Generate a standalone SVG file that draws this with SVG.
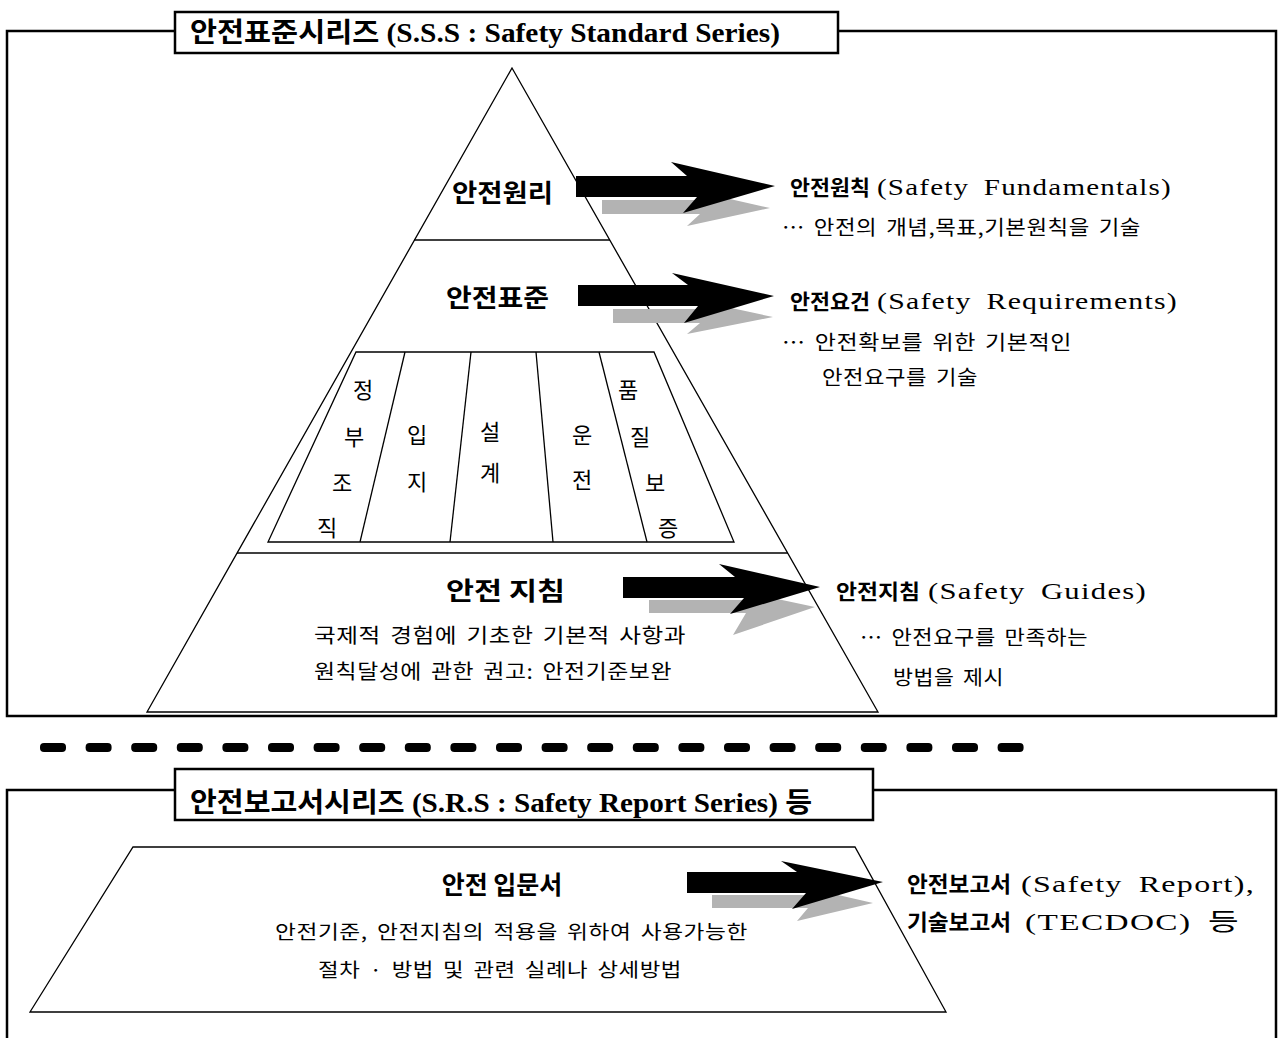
<svg xmlns="http://www.w3.org/2000/svg" width="1282" height="1038" viewBox="0 0 1282 1038">
<style>
.frame{fill:none;stroke:#000;stroke-width:2.5}
.tbox{fill:#fff;stroke:#000;stroke-width:2.5}
.ln{fill:none;stroke:#000;stroke-width:1.3}
.ko{font-family:"Noto Sans CJK KR","Liberation Serif",sans-serif;fill:#000}
.bd{font-family:"Noto Sans CJK KR","Liberation Serif",sans-serif;fill:#000;letter-spacing:0.5px;word-spacing:3px}
.b{font-weight:bold}
.en{font-family:"Liberation Serif","Noto Sans CJK KR",serif;fill:#000;font-size:24px;letter-spacing:1px;word-spacing:5px}
.ttl{font-family:"Liberation Serif","Noto Sans CJK KR",serif;font-weight:bold;font-size:27px;fill:#000}
.col{font-family:"Noto Sans CJK KR",sans-serif;font-size:22px;text-anchor:middle;fill:#000}
.blk{fill:#000}
.gry{fill:#b3b3b3}
</style>
<rect width="1282" height="1038" fill="#fff"/>

<g id="frame-sss">
<polyline class="frame" points="175,31 7,31 7,716 1276,716 1276,31 838,31"/>
<rect class="tbox" x="175" y="12" width="663" height="41"/>
<text class="ttl" x="190" y="42" textLength="590" lengthAdjust="spacingAndGlyphs">안전표준시리즈 (S.S.S : Safety Standard Series)</text>
</g>

<g id="pyramid">
<polygon class="ln" points="512,68 878,712 147,712"/>
<line class="ln" x1="414" y1="240" x2="610" y2="240"/>
<line class="ln" x1="237" y1="553" x2="788" y2="553"/>
</g>

<g id="node-principle">
<text class="ko b" x="452" y="202" font-size="25" textLength="101" lengthAdjust="spacingAndGlyphs">안전원리</text>
</g>
<g id="node-standard">
<text class="ko b" x="446" y="307" font-size="25" textLength="103" lengthAdjust="spacingAndGlyphs">안전표준</text>
</g>

<g id="node-columns">
<polygon class="ln" points="356,352 654,352 734,542 268,542"/>
<line class="ln" x1="405" y1="352" x2="360" y2="542"/>
<line class="ln" x1="471" y1="352" x2="450" y2="542"/>
<line class="ln" x1="536" y1="352" x2="553" y2="542"/>
<line class="ln" x1="599" y1="352" x2="647" y2="542"/>
<text class="col" x="363" y="398">정</text>
<text class="col" x="354" y="445">부</text>
<text class="col" x="342" y="491">조</text>
<text class="col" x="327" y="536">직</text>
<text class="col" x="417" y="443">입</text>
<text class="col" x="417" y="490">지</text>
<text class="col" x="490" y="440">설</text>
<text class="col" x="490" y="481">계</text>
<text class="col" x="582" y="443">운</text>
<text class="col" x="582" y="488">전</text>
<text class="col" x="628" y="398">품</text>
<text class="col" x="640" y="445">질</text>
<text class="col" x="655" y="491">보</text>
<text class="col" x="668" y="536">증</text>
</g>

<g id="node-guide">
<text class="ko b" x="446" y="600" font-size="25" textLength="119" lengthAdjust="spacingAndGlyphs">안전 지침</text>
<text class="bd" x="314" y="643" font-size="20" textLength="372" lengthAdjust="spacingAndGlyphs">국제적 경험에 기초한 기본적 사항과</text>
<text class="bd" x="314" y="679" font-size="20" textLength="358" lengthAdjust="spacingAndGlyphs">원칙달성에 관한 권고: 안전기준보완</text>
</g>

<g id="label-fundamentals">
<text class="ko b" x="790" y="195" font-size="21" textLength="80" lengthAdjust="spacingAndGlyphs">안전원칙</text>
<text class="en" x="877" y="195" textLength="295" lengthAdjust="spacingAndGlyphs">(Safety Fundamentals)</text>
<text class="bd" x="782" y="235" font-size="20" textLength="359" lengthAdjust="spacingAndGlyphs">… 안전의 개념,목표,기본원칙을 기술</text>
</g>

<g id="label-requirements">
<text class="ko b" x="790" y="309" font-size="21" textLength="80" lengthAdjust="spacingAndGlyphs">안전요건</text>
<text class="en" x="877" y="309" textLength="301" lengthAdjust="spacingAndGlyphs">(Safety Requirements)</text>
<text class="bd" x="782" y="350" font-size="20" textLength="290" lengthAdjust="spacingAndGlyphs">… 안전확보를 위한 기본적인</text>
<text class="bd" x="822" y="385" font-size="20" textLength="156" lengthAdjust="spacingAndGlyphs">안전요구를 기술</text>
</g>

<g id="label-guides">
<text class="ko b" x="836" y="599" font-size="21" textLength="84" lengthAdjust="spacingAndGlyphs">안전지침</text>
<text class="en" x="928" y="599" textLength="219" lengthAdjust="spacingAndGlyphs">(Safety Guides)</text>
<text class="bd" x="860" y="645" font-size="20" textLength="228" lengthAdjust="spacingAndGlyphs">… 안전요구를 만족하는</text>
<text class="bd" x="893" y="685" font-size="20" textLength="111" lengthAdjust="spacingAndGlyphs">방법을 제시</text>
</g>

<g id="divider">
<rect class="blk" x="40" y="743" width="26" height="9" rx="4"/>
<rect class="blk" x="85.6" y="743" width="26" height="9" rx="4"/>
<rect class="blk" x="131.2" y="743" width="26" height="9" rx="4"/>
<rect class="blk" x="176.8" y="743" width="26" height="9" rx="4"/>
<rect class="blk" x="222.4" y="743" width="26" height="9" rx="4"/>
<rect class="blk" x="268" y="743" width="26" height="9" rx="4"/>
<rect class="blk" x="313.6" y="743" width="26" height="9" rx="4"/>
<rect class="blk" x="359.2" y="743" width="26" height="9" rx="4"/>
<rect class="blk" x="404.8" y="743" width="26" height="9" rx="4"/>
<rect class="blk" x="450.4" y="743" width="26" height="9" rx="4"/>
<rect class="blk" x="496" y="743" width="26" height="9" rx="4"/>
<rect class="blk" x="541.6" y="743" width="26" height="9" rx="4"/>
<rect class="blk" x="587.2" y="743" width="26" height="9" rx="4"/>
<rect class="blk" x="632.8" y="743" width="26" height="9" rx="4"/>
<rect class="blk" x="678.4" y="743" width="26" height="9" rx="4"/>
<rect class="blk" x="724" y="743" width="26" height="9" rx="4"/>
<rect class="blk" x="769.6" y="743" width="26" height="9" rx="4"/>
<rect class="blk" x="815.2" y="743" width="26" height="9" rx="4"/>
<rect class="blk" x="860.8" y="743" width="26" height="9" rx="4"/>
<rect class="blk" x="906.4" y="743" width="26" height="9" rx="4"/>
<rect class="blk" x="952" y="743" width="26" height="9" rx="4"/>
<rect class="blk" x="997.6" y="743" width="26" height="9" rx="4"/>
</g>

<g id="frame-srs">
<polyline class="frame" points="175,790 7,790 7,1040"/>
<polyline class="frame" points="873,790 1276,790 1276,1040"/>
<rect class="tbox" x="175" y="769" width="698" height="51"/>
<text class="ttl" x="190" y="812" textLength="622" lengthAdjust="spacingAndGlyphs">안전보고서시리즈 (S.R.S : Safety Report Series) 등</text>
</g>

<g id="node-primer">
<polygon class="ln" points="133,847 855,847 946,1012 30,1012"/>
<text class="ko b" x="502" y="894" font-size="25" text-anchor="middle">안전 입문서</text>
<text class="bd" x="275" y="939" font-size="19" textLength="473" lengthAdjust="spacingAndGlyphs">안전기준, 안전지침의 적용을 위하여 사용가능한</text>
<text class="bd" x="318" y="977" font-size="19" textLength="364" lengthAdjust="spacingAndGlyphs">절차 · 방법 및 관련 실례나 상세방법</text>
</g>

<g id="label-reports">
<text class="ko b" x="907" y="892" font-size="22" textLength="104" lengthAdjust="spacingAndGlyphs">안전보고서</text>
<text class="en" x="1021" y="892" textLength="234" lengthAdjust="spacingAndGlyphs">(Safety Report),</text>
<text class="ko b" x="907" y="930" font-size="22" textLength="104" lengthAdjust="spacingAndGlyphs">기술보고서</text>
<text class="en" x="1025" y="930" textLength="215" lengthAdjust="spacingAndGlyphs">(TECDOC) 등</text>
</g>

<g id="connectors">
<path class="gry" d="M602,200 L712,200 L708,194 L770,208 L687,226 L700,214 L602,214 Z"/>
<path class="blk" d="M576,176 L687,176 L671,162 L775,186 L683,213 L697,197 L576,197 Z"/>
<path class="gry" d="M613,309 L712,309 L708,303 L773,317 L687,334 L700,323 L613,323 Z"/>
<path class="blk" d="M578,285 L688,285 L672,273 L774,296 L684,323 L698,306 L578,306 Z"/>
<path class="gry" d="M649,600 L758,600 L754,594 L815,607 L733,635 L746,613 L649,613 Z"/>
<path class="blk" d="M623,577 L735,577 L719,564 L820,587 L730,614 L744,598 L623,598 Z"/>
<path class="gry" d="M712,895 L816,895 L812,889 L873,903 L797,921 L808,908 L712,908 Z"/>
<path class="blk" d="M687,872 L797,872 L781,861 L883,882 L792,909 L806,893 L687,893 Z"/>
</g>
</svg>
